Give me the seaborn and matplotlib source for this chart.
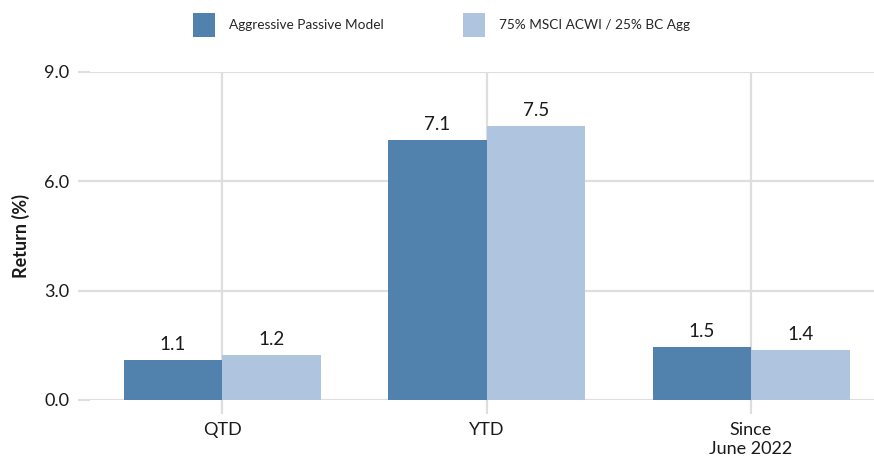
import matplotlib
matplotlib.use("Agg")
import matplotlib.pyplot as plt
import seaborn as sns
import pandas as pd
from matplotlib.patches import Patch

categories = ["QTD", "YTD", "Since\nJune 2022"]
series_names = ["Aggressive Passive Model", "75% MSCI ACWI / 25% BC Agg"]
model_values = [1.1, 7.14, 1.46]
bench_values = [1.24, 7.53, 1.37]
y_ticks = [0.0, 3.0, 6.0, 9.0]
colors = ["#5181AD", "#AFC4DF"]

df = pd.DataFrame({
    "category": categories * 2,
    "series": [series_names[0]] * 3 + [series_names[1]] * 3,
    "value": model_values + bench_values,
})

sns.set_theme(style="white")
FONT = ["Lato", "DejaVu Sans"]
plt.rcParams["font.family"] = FONT

fig = plt.figure(figsize=(8.74, 4.62), dpi=100)
ax = fig.add_axes([90 / 874, 1 - 400 / 462, 1 - 90 / 874, (400 - 72) / 462])

sns.barplot(data=df, x="category", y="value", hue="series", order=categories,
            hue_order=series_names, palette=colors, width=0.745, dodge=True,
            saturation=1, ax=ax, legend=False, edgecolor="none", linewidth=0)

for cont in ax.containers:
    ax.bar_label(cont, fmt="%.1f", padding=5, fontsize=13.5, color="#1a1a1a")

ax.set_ylim(0, 9)
ax.set_xlim(-0.5, 2.465)
ax.set_yticks(y_ticks)
ax.set_yticklabels([f"{t:.1f}" for t in y_ticks], fontsize=13, color="#1a1a1a")
ax.set_xticks(range(len(categories)))
ax.set_xticklabels(categories, fontsize=13, color="#1a1a1a")
ax.set_xlabel("")
ax.set_ylabel("Return (%)", fontsize=13, fontweight="bold", color="#1a1a1a", labelpad=10)

ax.grid(True, axis="both", color="#dedede", linewidth=1.6)
ax.set_axisbelow(True)
for s in ax.spines.values():
    s.set_visible(False)
ax.tick_params(axis="y", length=9, width=1.6, color="#dedede", pad=6, left=True)
ax.tick_params(axis="x", length=10, width=1.6, color="#dedede", pad=6, bottom=True)

handles = [Patch(facecolor=c, edgecolor="none") for c in colors]
fig.legend(handles, series_names, loc="center", bbox_to_anchor=(0.505, 1 - 25 / 462),
           ncol=2, frameon=False, fontsize=9.8, handlelength=1.65, handleheight=2.3,
           columnspacing=5.8, handletextpad=1.0)

fig.savefig("out.png", dpi=100)
